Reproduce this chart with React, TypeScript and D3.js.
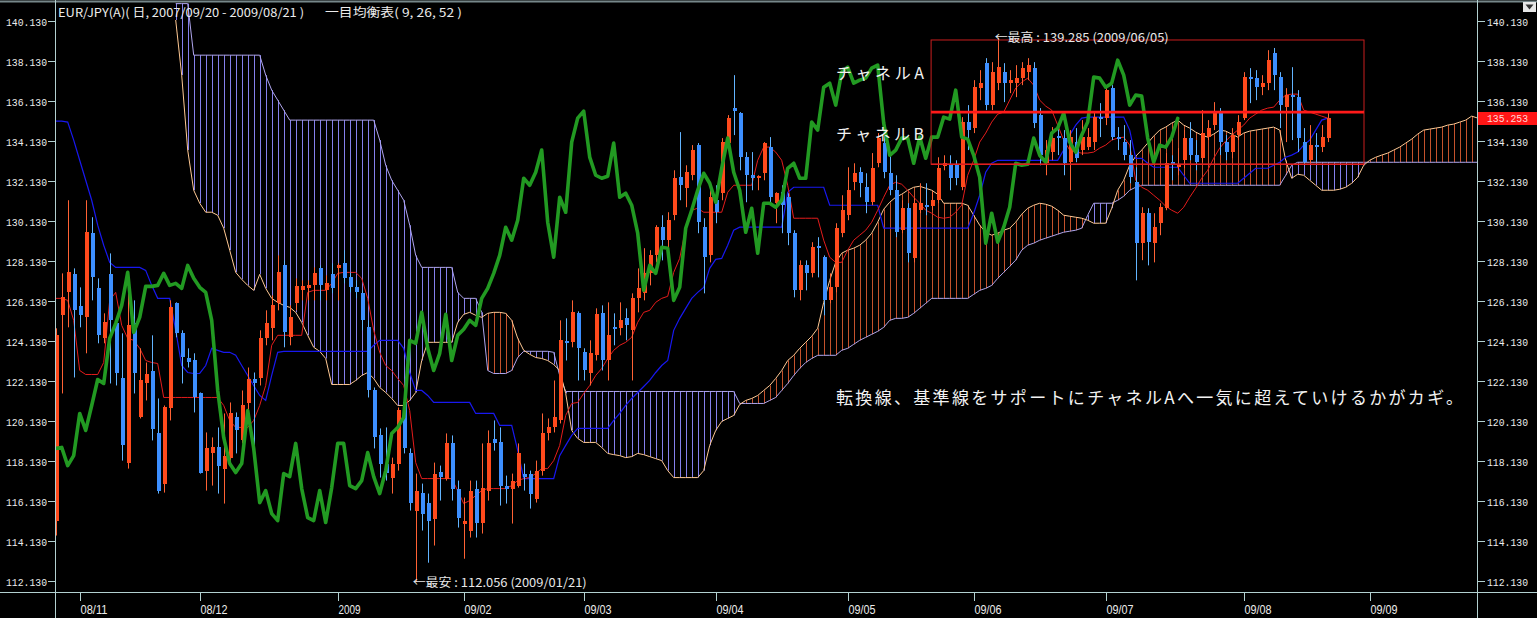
import React from "react";
import * as d3 from "d3";

// ---------- data (EUR/JPY daily, visible bars) ----------
const OPEN = [
115.13,125.40,126.55,127.45,125.85,125.30,129.51,126.75,124.25,127.45,
125.00,122.24,118.03,125.00,120.29,122.01,122.59,119.49,116.98,120.74,
126.00,124.50,123.24,123.14,121.49,117.63,118.49,118.79,117.73,118.28,
120.29,119.14,120.99,122.19,122.24,124.25,124.75,126.00,127.90,124.30,
126.00,126.65,126.75,126.90,127.75,126.65,127.45,127.75,128.00,127.30,
126.80,126.50,124.80,121.64,119.39,117.98,117.28,117.98,121.04,118.49,
115.63,116.53,116.03,115.23,117.58,117.23,118.99,116.73,114.98,114.63,
116.73,115.03,116.63,119.19,119.04,116.88,116.73,116.88,117.48,117.48,
116.23,117.63,119.49,119.79,120.14,124.10,124.05,125.50,123.55,122.49,
123.40,125.50,123.14,124.80,124.75,125.25,124.65,126.25,126.50,127.50,
128.40,129.81,129.16,130.41,132.31,131.76,132.41,133.92,129.81,128.40,
131.16,131.51,134.02,135.77,135.52,133.32,132.41,132.31,132.51,133.82,
131.01,131.56,131.31,129.51,126.65,127.90,127.50,128.86,128.31,126.15,
126.80,129.51,130.41,132.06,132.56,131.81,131.06,133.01,134.02,132.51,
131.66,129.66,130.76,128.25,130.66,130.91,130.86,131.16,132.86,132.91,
132.91,131.81,135.07,134.77,136.77,138.02,135.92,137.02,137.57,137.02,
137.02,137.27,137.57,137.77,135.42,133.01,133.57,134.37,134.27,133.06,
134.07,133.67,133.82,134.07,135.32,135.27,136.77,134.32,134.07,133.41,
132.06,129.01,130.51,129.01,130.01,130.76,133.06,132.81,133.16,134.27,
133.41,133.26,134.32,134.92,135.57,134.07,133.57,134.42,135.27,137.32,
137.27,136.82,137.02,138.52,137.32,135.82,136.42,136.32,134.07,133.16,
133.92,133.82,134.27,
];

const HIGH = [
124.75,127.50,131.16,127.75,126.80,131.16,130.31,127.25,125.50,128.50,
125.15,124.50,127.50,126.15,123.75,123.04,124.40,121.24,120.89,126.15,
126.05,124.65,123.75,123.50,121.54,119.54,119.29,119.79,120.49,121.04,
120.54,121.64,122.79,122.54,124.65,125.65,126.40,128.40,128.15,125.90,
127.25,127.15,127.15,127.80,127.90,127.40,128.00,128.00,128.66,127.55,
127.15,126.65,125.15,121.79,119.74,119.79,118.28,120.79,121.29,118.74,
117.48,116.98,116.48,118.03,117.88,119.49,119.39,117.13,116.28,117.13,
117.13,118.99,119.64,120.14,119.79,117.38,117.48,118.99,117.98,117.63,
118.13,120.49,120.24,122.14,125.15,125.25,126.15,125.60,123.75,124.15,
125.75,125.90,126.05,125.50,126.05,125.75,126.50,127.75,128.76,128.66,
129.91,130.41,130.56,132.66,134.57,132.91,133.92,134.02,130.26,131.81,
131.91,134.27,135.42,137.42,135.57,133.57,133.57,132.41,134.07,134.32,
131.56,131.91,131.51,129.66,128.15,128.15,129.06,129.31,128.40,127.50,
130.01,131.41,132.81,133.01,132.81,132.51,133.52,134.52,134.67,133.52,
132.41,131.16,131.01,131.26,132.01,132.01,131.56,133.31,133.41,133.41,
133.16,135.32,135.92,137.17,137.67,138.27,138.07,139.29,138.02,137.67,
137.92,138.07,138.27,138.07,135.77,134.17,134.82,134.92,134.67,134.67,
134.77,135.17,134.77,135.57,136.02,136.92,136.92,134.82,134.92,134.17,
132.81,130.81,130.76,130.51,131.01,133.52,133.41,133.77,134.67,135.07,
134.17,135.67,135.17,136.07,135.77,134.42,134.77,135.42,137.57,137.77,
137.67,137.42,138.67,138.78,137.57,136.77,137.82,136.67,134.77,134.92,
134.52,134.92,135.52,
];

const LOW = [
114.38,121.49,124.80,122.29,124.80,123.50,126.15,124.00,124.00,121.99,
121.89,118.13,117.73,121.49,120.24,121.14,119.14,116.48,116.53,120.14,
124.30,121.99,122.79,120.54,117.48,116.63,116.88,116.48,115.98,118.13,
118.49,118.99,120.49,117.78,121.89,123.90,124.15,125.65,123.80,123.90,
125.65,126.15,126.15,126.15,126.15,126.15,126.50,126.15,127.00,126.55,
126.25,124.65,121.29,118.74,117.28,117.13,116.48,117.63,118.49,115.63,
112.06,114.63,113.02,113.88,116.13,117.13,116.13,114.78,113.22,114.28,
114.28,114.48,116.13,118.63,115.88,115.98,114.98,116.78,116.63,115.73,
116.03,117.38,119.14,119.54,119.99,123.14,123.80,122.14,122.14,121.89,
123.14,122.64,122.14,123.90,124.40,124.15,122.14,125.55,126.15,126.90,
128.05,128.15,128.66,130.16,131.16,130.81,132.16,129.51,126.50,128.05,
130.01,131.16,133.67,134.42,132.66,131.06,131.66,131.66,132.16,131.06,
130.01,129.51,128.91,126.30,126.15,126.65,127.30,127.30,125.40,126.00,
126.55,129.31,130.16,131.66,131.31,130.51,130.91,132.81,132.26,131.41,
129.31,129.51,128.05,128.05,130.51,130.41,130.66,131.01,132.66,131.66,
131.91,131.66,133.67,134.52,136.17,135.67,135.67,136.67,136.07,136.52,
136.32,136.92,137.17,134.77,132.91,132.41,133.16,133.42,132.41,131.66,
133.06,133.42,133.67,133.67,134.32,134.92,134.17,133.67,133.16,132.01,
127.15,128.16,127.90,128.05,129.41,130.66,132.16,132.41,132.76,133.16,
132.66,133.06,134.17,134.67,133.42,133.16,133.26,134.17,135.17,136.02,
136.17,136.42,136.67,136.67,134.77,134.07,134.17,133.57,132.91,133.01,
133.06,133.57,134.07,
];

const CLOSE = [
124.40,126.30,127.55,125.65,125.40,129.56,127.30,124.40,125.05,125.15,
122.49,118.89,124.90,122.49,122.14,122.44,119.69,116.63,120.79,125.80,
124.50,123.29,123.04,121.29,117.53,118.74,118.79,117.88,118.38,120.49,
119.64,120.89,122.19,121.99,124.25,125.00,125.90,127.55,124.55,125.30,
126.85,126.85,126.90,127.50,126.90,127.00,126.75,127.90,127.25,126.80,
126.55,125.15,121.64,119.29,117.98,117.53,117.98,120.64,118.74,116.03,
116.63,115.48,115.13,117.48,117.33,118.99,116.73,115.28,115.13,116.63,
115.03,116.78,118.99,118.99,116.88,116.73,117.13,118.53,117.33,116.48,
117.63,119.49,119.79,120.29,124.15,124.00,125.55,123.75,122.64,123.50,
125.45,123.14,124.40,124.70,125.15,124.90,126.25,126.75,127.50,128.40,
129.81,129.16,130.16,132.26,131.91,132.56,133.67,130.06,128.31,131.31,
130.56,134.07,135.27,135.62,133.32,132.41,132.26,132.36,134.02,131.31,
131.51,130.91,129.51,126.65,127.90,127.50,128.81,128.76,126.15,126.80,
129.76,130.66,131.66,132.51,132.01,131.06,132.76,134.27,132.56,131.66,
129.56,130.76,128.51,131.01,131.01,130.81,131.16,132.76,133.01,132.26,
132.26,135.07,134.67,136.82,137.02,135.92,137.57,137.82,137.02,137.17,
137.27,137.77,137.92,135.02,133.41,133.67,134.27,134.27,133.01,134.32,
133.26,134.32,134.32,135.32,135.22,136.67,134.32,134.22,133.41,132.31,
129.01,130.51,129.06,129.81,130.81,133.01,132.91,132.96,134.27,133.41,
133.06,134.52,134.77,135.52,134.07,133.57,134.42,135.07,137.32,137.27,
136.82,137.02,138.17,137.42,135.92,136.42,136.37,134.27,133.06,133.92,
133.82,134.32,135.253,
];

// 転換線 (9)
const TENKAN = [
126.25,126.25,126.15,125.15,122.64,122.44,122.44,122.44,123.04,126.15,
126.55,124.90,124.25,124.15,123.75,123.14,123.04,122.99,121.29,121.29,
121.29,121.29,121.29,121.29,121.29,121.29,121.29,121.29,120.89,120.14,
119.79,119.79,119.79,120.14,120.89,121.89,123.90,124.40,124.40,124.40,
124.40,124.40,126.55,126.65,126.65,126.65,127.00,127.50,127.55,127.55,
127.55,127.25,126.25,124.65,123.55,122.89,122.64,122.24,121.89,120.64,
118.03,117.23,117.23,117.23,117.23,117.23,117.23,116.63,115.98,116.13,
116.38,116.63,116.73,116.73,116.73,116.73,116.88,117.13,117.23,117.28,
117.48,117.73,117.73,118.13,118.89,120.39,120.99,121.04,121.49,121.89,
122.39,122.74,123.24,123.65,123.90,124.05,124.30,125.05,125.55,125.65,
126.05,126.25,126.35,127.55,128.25,129.76,130.66,130.76,130.56,130.56,
130.56,130.56,131.56,131.91,131.91,131.91,131.91,133.16,133.82,133.82,
133.57,133.16,131.91,130.26,130.26,130.26,130.26,130.26,129.16,128.31,
128.05,128.05,128.66,129.16,129.41,129.66,130.06,130.66,131.31,131.91,
132.06,131.96,131.66,131.31,131.01,130.66,130.51,130.31,130.26,130.31,
130.56,130.91,132.41,133.16,134.07,134.52,135.07,135.47,135.57,136.17,
136.77,137.07,137.27,136.92,136.17,135.87,135.67,134.92,134.17,133.67,
133.57,133.52,133.52,133.57,133.77,133.92,134.17,134.27,134.32,133.92,
132.16,131.81,131.66,131.41,131.16,130.86,130.66,130.51,130.81,131.31,
131.76,132.26,132.66,133.26,133.77,134.12,134.42,134.67,134.92,135.27,
135.47,135.67,135.77,135.82,136.17,136.42,136.47,136.47,135.67,135.57,
135.47,135.37,135.27,
];

// 基準線 (26)
const KIJUN = [
135.12,135.12,135.07,134.17,133.16,132.16,131.16,129.91,128.91,128.05,
127.80,127.80,127.80,127.80,127.80,127.65,126.90,126.25,126.25,126.25,
124.65,122.89,122.54,122.49,122.49,122.89,123.75,123.65,123.55,123.55,
123.40,122.89,122.39,121.89,121.39,121.14,122.39,123.55,123.60,123.60,
123.60,123.60,123.60,123.60,123.60,123.60,123.60,123.60,123.60,123.60,
123.60,123.60,123.60,123.90,124.15,124.15,124.15,124.15,123.75,122.54,
121.64,121.64,121.39,121.04,121.04,121.04,121.04,121.04,121.04,121.04,
120.49,120.49,120.49,120.49,119.89,119.89,119.89,118.64,117.23,117.23,
117.23,117.23,117.23,117.23,118.38,118.89,119.39,119.74,119.74,119.74,
119.74,119.74,119.74,120.14,120.49,120.89,121.24,121.54,121.84,122.14,
122.54,122.89,123.14,124.65,125.25,125.75,126.25,126.55,126.80,127.75,
128.20,128.25,128.91,129.66,129.81,129.81,129.81,129.81,129.81,129.81,
129.81,129.81,131.56,131.81,131.81,131.81,131.81,131.81,131.81,130.91,
130.91,130.91,130.91,130.91,130.91,130.91,130.91,130.91,129.76,129.76,
129.76,129.76,129.76,129.76,129.76,129.76,129.76,129.76,129.76,129.76,
129.76,129.76,129.76,130.51,131.41,132.56,133.01,133.16,133.16,133.16,
133.16,133.16,133.16,133.16,133.16,133.16,133.16,133.16,133.67,134.42,
134.92,135.27,135.32,135.32,135.32,135.32,135.32,135.32,135.32,134.67,
133.26,133.26,133.01,132.81,132.81,132.81,132.81,132.81,132.41,132.01,
132.01,132.01,132.01,132.01,132.01,132.01,132.01,132.01,132.26,132.51,
132.76,132.76,132.76,132.91,133.06,133.31,133.42,133.57,133.92,134.17,
134.67,135.17,135.27,
];

// 先行スパン1 (led 25 bars, continues past last bar)
const SPAN_A = [
null,null,null,null,null,null,null,null,null,null,
null,null,null,null,null,null,null,null,null,null,
140.18,137.42,133.67,131.66,131.01,130.56,130.56,130.41,129.76,128.66,
127.55,127.20,126.90,126.65,127.45,126.75,126.25,126.05,125.90,125.80,
125.55,125.05,124.40,123.80,123.60,123.24,121.94,121.94,121.94,121.94,
122.14,122.39,122.54,122.24,121.79,121.54,121.24,120.89,120.89,121.14,
121.54,123.14,124.05,124.05,124.05,124.05,124.05,125.05,125.45,125.55,
125.40,125.30,125.50,125.55,125.55,125.50,125.15,124.25,123.65,123.45,
123.29,123.24,123.14,122.94,122.64,121.49,119.64,119.24,119.04,119.04,
119.04,118.79,118.49,118.43,118.38,118.28,118.33,118.49,118.43,118.33,
118.23,118.13,117.63,117.28,117.28,117.28,117.28,117.28,117.63,118.89,
119.64,120.09,120.24,120.39,120.94,121.14,121.24,121.39,121.64,121.89,
122.24,122.64,123.14,123.40,123.75,124.05,124.35,124.75,126.05,127.15,
128.05,128.51,128.66,128.76,128.91,129.16,129.51,130.06,130.71,131.06,
131.31,131.46,131.66,131.81,131.86,131.76,131.66,131.46,131.01,131.01,
131.01,131.01,130.91,130.41,129.91,129.56,129.41,129.51,129.66,129.76,
130.06,130.46,130.76,130.91,131.01,130.96,130.86,130.66,130.41,130.36,
130.31,130.26,130.16,130.01,130.01,130.01,130.76,131.66,132.16,132.91,
133.36,133.67,134.02,134.37,134.67,134.82,135.02,135.17,134.92,134.77,
134.57,134.42,134.32,134.47,134.67,134.62,134.47,134.32,134.52,134.62,
134.67,134.72,134.77,134.82,134.67,133.16,132.26,132.46,132.41,132.16,
131.91,131.66,131.66,131.66,131.71,131.81,132.01,132.31,132.91,133.16,
133.31,133.42,133.52,133.67,133.82,134.02,134.22,134.47,134.67,134.72,
134.77,134.82,134.92,134.97,135.07,135.17,135.37,135.27,
];

// 先行スパン2 (led 25 bars)
const SPAN_B = [
null,null,null,null,null,null,null,null,null,null,
null,null,null,null,null,null,null,null,null,null,
141.00,141.00,141.00,138.42,138.42,138.42,138.42,138.42,138.42,138.42,
138.42,138.42,138.42,138.42,138.42,137.42,136.67,136.17,135.67,135.17,
135.17,135.17,135.17,135.17,135.17,135.17,135.17,135.17,135.17,135.17,
135.17,135.17,135.17,135.17,134.17,132.91,132.16,131.66,131.16,129.91,
128.40,127.80,127.80,127.80,127.80,127.80,127.80,126.55,126.25,126.25,
126.25,125.55,122.64,122.49,122.49,122.49,122.64,123.29,123.60,123.60,
123.60,123.60,123.60,123.55,122.39,121.59,121.59,121.59,121.59,121.59,
121.59,121.59,121.59,121.59,121.59,121.59,121.59,121.59,121.59,121.59,
121.59,121.59,121.59,121.59,121.59,121.59,121.59,121.59,121.59,121.59,
121.59,121.59,121.59,121.59,120.99,120.99,120.99,120.99,120.99,121.14,
121.29,121.64,121.99,122.39,122.74,123.04,123.24,123.40,123.40,123.40,
123.40,123.65,123.75,123.95,124.15,124.30,124.45,124.60,124.80,125.15,
125.25,125.25,125.30,125.50,125.75,126.00,126.25,126.25,126.25,126.25,
126.25,126.25,126.25,126.45,126.65,126.75,126.90,127.25,127.55,127.85,
128.16,128.66,128.91,129.01,129.16,129.26,129.36,129.46,129.56,129.61,
129.66,129.76,130.41,131.01,131.01,131.01,131.01,131.16,131.36,131.66,
131.81,131.91,131.91,131.91,131.91,131.91,131.91,131.91,131.91,131.91,
131.91,131.91,131.91,131.91,131.91,131.91,131.91,131.91,131.91,131.91,
131.91,131.91,131.91,131.91,131.91,132.41,132.91,133.06,133.06,133.06,
133.06,133.06,133.06,133.06,133.06,133.06,133.06,133.06,133.06,133.06,
133.06,133.06,133.06,133.06,133.06,133.06,133.06,133.06,133.06,133.06,
133.06,133.06,133.06,133.06,133.06,133.06,133.06,133.06,
];

const CHIKOU_SHIFT = 25;
const PRICE_TICKS = [140.13,138.13,136.13,134.13,132.13,130.13,128.13,126.13,124.13,122.13,120.13,118.13,116.13,114.13,112.13];
const DATE_TICK_INDEX = [4,24,47,68,88,110,132,153,175,198,219];
const DATE_TICK_LABELS = ["08/11","08/12","2009","09/02","09/03","09/04","09/05","09/06","09/07","09/08","09/09"];
const LAST_PRICE = 135.253;
const HIGH_MARK = { index: 157, price: 139.285, date: "2009/06/05" };
const LOW_MARK = { index: 60, price: 112.056, date: "2009/01/21" };
const CHANNEL = { startIndex: 145.9, endIndex: 218.05, top: 139.18, mid: 135.57, bottom: 132.96 };

const JP = "'Noto Sans CJK JP', 'Noto Sans', sans-serif";
const MONO = "'Liberation Mono', 'DejaVu Sans Mono', monospace";

export default function App() {
  const N = SPAN_A.length - 1;
  const x = d3.scaleLinear().domain([0, N]).range([55.7, 55.7 + 6 * N]);
  const y = d3.scaleLinear().domain([112.13, 140.13]).range([580.5, 21]);
  const px = (i: number) => Math.round(x(i));

  const lineGen = d3
    .line<[number, number | null]>()
    .defined((d) => d[1] != null)
    .x((d) => x(d[0]))
    .y((d) => y(d[1] as number));

  const spanAPath = lineGen(SPAN_A.map((v, i) => [i, v]));
  const spanBPath = lineGen(SPAN_B.map((v, i) => [i, v]));
  const tenkanPath = lineGen(TENKAN.map((v, i) => [i, v]));
  const kijunPath = lineGen(KIJUN.map((v, i) => [i, v]));
  const chikouPts: [number, number][] = [];
  for (let j = 0; j + CHIKOU_SHIFT < CLOSE.length; j++) chikouPts.push([j, CLOSE[j + CHIKOU_SHIFT]]);
  const chikouPath = lineGen(chikouPts);

  const axisColor = "#b2d0d0";

  return (
    <svg width={1537} height={618} style={{ position: "absolute", left: 0, top: 0, display: "block" }}>
      <rect x={0} y={0} width={1537} height={618} fill="#000" />
      <defs>
        <clipPath id="plotClip">
          <rect x={56} y={3} width={1421} height={589} />
        </clipPath>
      </defs>

      {/* top rule */}
      <line x1={0} x2={1537} y1={1.5} y2={1.5} stroke="#76878a" strokeWidth={2} />

      <g clipPath="url(#plotClip)">
        {/* cloud hatch */}
        {SPAN_A.map((a, i) => {
          const b = SPAN_B[i];
          if (a == null || b == null) return null;
          const xx = px(i) + 0.5;
          return (
            <line key={"h" + i} x1={xx} x2={xx} y1={y(a)} y2={y(b)}
              stroke={a >= b ? "#c4522c" : "#8580ec"} strokeWidth={1} />
          );
        })}
        <path d={spanBPath || ""} fill="none" stroke="#b0a6ee" strokeWidth={1} />
        <path d={spanAPath || ""} fill="none" stroke="#ffc994" strokeWidth={1} />
        <path d={kijunPath || ""} fill="none" stroke="#1818f0" strokeWidth={1.2} />
        <path d={tenkanPath || ""} fill="none" stroke="#e41c1c" strokeWidth={1} />

        {/* candles */}
        {OPEN.map((o, i) => {
          const c = CLOSE[i];
          const up = c >= o;
          const cx = px(i);
          const top = Math.round(y(Math.max(o, c)));
          const bot = Math.round(y(Math.min(o, c)));
          const h = Math.max(2, bot - top);
          return (
            <g key={"c" + i}>
              <line x1={cx + 0.5} x2={cx + 0.5} y1={y(HIGH[i])} y2={y(LOW[i])}
                stroke={up ? "#ff6234" : "#62b4ff"} strokeWidth={1} />
              <rect x={cx - 1} y={top} width={4} height={h}
                fill={up ? "#ff4a1c" : "#3d8fff"} />
            </g>
          );
        })}

        <path d={chikouPath || ""} fill="none" stroke="#229a22" strokeWidth={3.6}
          strokeLinejoin="round" strokeLinecap="round" />

        {/* channel box */}
        <rect x={x(CHANNEL.startIndex)} y={y(CHANNEL.top)}
          width={x(CHANNEL.endIndex) - x(CHANNEL.startIndex)}
          height={y(CHANNEL.bottom) - y(CHANNEL.top)}
          fill="none" stroke="#c81e1e" strokeWidth={1} />
        <line x1={x(CHANNEL.startIndex)} x2={x(CHANNEL.endIndex)} y1={y(CHANNEL.mid)} y2={y(CHANNEL.mid)}
          stroke="#ff1a1a" strokeWidth={2.6} />
        <line x1={x(CHANNEL.startIndex)} x2={x(CHANNEL.endIndex)} y1={y(CHANNEL.bottom)} y2={y(CHANNEL.bottom)}
          stroke="#e01e1e" strokeWidth={1.6} />
      </g>

      {/* axes */}
      <line x1={55.5} x2={55.5} y1={0} y2={618} stroke={axisColor} strokeWidth={1} />
      <line x1={1477.5} x2={1477.5} y1={0} y2={618} stroke={axisColor} strokeWidth={1} />
      <line x1={0} x2={1537} y1={592.5} y2={592.5} stroke={axisColor} strokeWidth={1} />

      {PRICE_TICKS.map((t) => {
        const yy = Math.round(y(t)) + 0.5;
        const label = t.toFixed(3);
        return (
          <g key={"pt" + t}>
            <line x1={48} x2={55} y1={yy} y2={yy} stroke={axisColor} />
            <text x={47} y={yy + 4} textAnchor="end" fill="#ececec" fontSize={11}
              fontFamily={MONO} textLength={41} lengthAdjust="spacingAndGlyphs">{label}</text>
            <line x1={1478} x2={1485} y1={yy} y2={yy} stroke={axisColor} />
            <text x={1487} y={yy + 4} fill="#ececec" fontSize={11}
              fontFamily={MONO} textLength={41} lengthAdjust="spacingAndGlyphs">{label}</text>
          </g>
        );
      })}

      {/* last price tag */}
      <rect x={1478} y={Math.round(y(LAST_PRICE)) - 6} width={59} height={13} fill="#ff1616" />
      <text x={1487} y={Math.round(y(LAST_PRICE)) + 4} fill="#ffd6d6" fontSize={11}
        fontFamily={MONO} textLength={41} lengthAdjust="spacingAndGlyphs">{LAST_PRICE.toFixed(3)}</text>

      {/* dropdown icon */}
      <rect x={1523} y={2} width={13} height={10} fill="#e6e6e6" />
      <path d="M1525.5,4.5 L1533.5,4.5 L1529.5,9.5 Z" fill="#333" />

      {DATE_TICK_INDEX.map((idx, k) => {
        const xx = px(idx) + 0.5;
        const lab = DATE_TICK_LABELS[k];
        return (
          <g key={"dt" + k}>
            <line x1={xx} x2={xx} y1={593} y2={601} stroke={axisColor} />
            <text x={xx} y={614} fill="#ececec" fontSize={13} fontFamily="'Liberation Sans', sans-serif"
              textLength={lab.length === 4 ? 22 : 27} lengthAdjust="spacingAndGlyphs">{lab}</text>
          </g>
        );
      })}

      {/* header */}
      <text x={58} y={17} fill="#ececec" fontSize={12} fontFamily={JP}
        textLength={246} lengthAdjust="spacingAndGlyphs">EUR/JPY(A)( 日, 2007/09/20 - 2009/08/21 )</text>
      <text x={325} y={17} fill="#ececec" fontSize={12} fontFamily={JP}
        textLength={137} lengthAdjust="spacingAndGlyphs">一目均衡表( 9, 26, 52 )</text>

      {/* annotations */}
      <text x={x(HIGH_MARK.index) - 3} y={y(HIGH_MARK.price) + 4} fill="#e8e8e8" fontSize={12} fontFamily={JP}
        textLength={174} lengthAdjust="spacingAndGlyphs">{`←最高 : ${HIGH_MARK.price.toFixed(3)} (${HIGH_MARK.date})`}</text>
      <text x={x(LOW_MARK.index) - 3} y={y(LOW_MARK.price) + 5} fill="#e8e8e8" fontSize={12} fontFamily={JP}
        textLength={174} lengthAdjust="spacingAndGlyphs">{`←最安 : ${LOW_MARK.price.toFixed(3)} (${LOW_MARK.date})`}</text>

      <text x={836} y={79} fill="#f2f2f2" fontSize={16} fontFamily={JP}
        textLength={88} lengthAdjust="spacing">チャネルA</text>
      <text x={836} y={140} fill="#f2f2f2" fontSize={16} fontFamily={JP}
        textLength={88} lengthAdjust="spacing">チャネルB</text>
      <text x={836} y={404} fill="#f2f2f2" fontSize={17} fontFamily={JP}
        textLength={627} lengthAdjust="spacing">転換線、基準線をサポートにチャネルAへ一気に超えていけるかがカギ。</text>
    </svg>
  );
}
